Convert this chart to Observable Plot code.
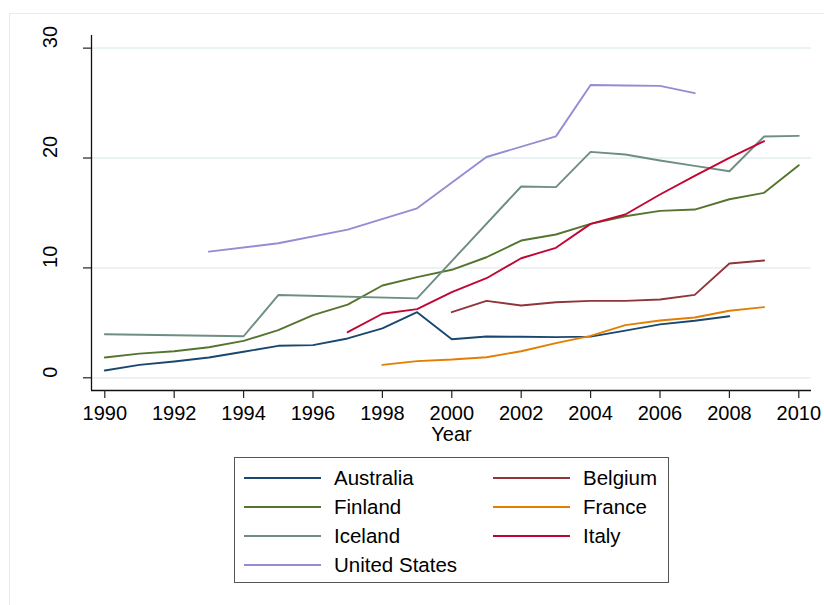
<!DOCTYPE html>
<html>
<head>
<meta charset="utf-8">
<script src="https://cdn.jsdelivr.net/npm/d3@7"></script>
<script src="https://cdn.jsdelivr.net/npm/@observablehq/plot@0.6"></script>
<style>
  html, body { margin: 0; padding: 0; background: #fff; }
  #wrap { position: relative; width: 824px; height: 605px; overflow: hidden; background: #fff;
          font-family: "Liberation Sans", Arial, sans-serif; }
  #frame { position: absolute; left: 9px; top: 13px; width: 900px; height: 700px;
           border-left: 1px solid #e3ebee; border-top: 1px solid #e3ebee; }
  #chart { position: absolute; left: 0; top: 0; }
  #legend { position: absolute; left: 234px; top: 457px; width: 433px; height: 124px;
            border: 1px solid #555; background: #fff; }
  .key { position: absolute; height: 2px; width: 77px; }
  .lab { position: absolute; font-size: 20.5px; line-height: 20px; color: #000; white-space: nowrap; }
</style>
</head>
<body>
<div id="wrap">
  <div id="frame"></div>
  <div id="chart"></div>
  <div id="legend"></div>
</div>
<script>
const countries = ["Australia", "Belgium", "Finland", "France", "Iceland", "Italy", "United States"];
const colors = ["#1a476f", "#90353b", "#55752f", "#e37e00", "#6e8e84", "#c10534", "#938dd2"];

const australiaYears  = [1990,1991,1992,1993,1994,1995,1996,1997,1998,1999,2000,2001,2002,2003,2004,2005,2006,2007,2008];
const australiaValues = [0.66,1.18,1.48,1.85,2.37,2.91,2.97,3.58,4.49,5.97,3.51,3.76,3.73,3.70,3.75,4.29,4.86,5.19,5.60];

const belgiumYears  = [2000,2001,2002,2003,2004,2005,2006,2007,2008,2009];
const belgiumValues = [5.97,7.00,6.58,6.88,7.00,7.00,7.12,7.55,10.40,10.67];

const finlandYears  = [1990,1991,1992,1993,1994,1995,1996,1997,1998,1999,2000,2001,2002,2003,2004,2005,2006,2007,2008,2009,2010];
const finlandValues = [1.85,2.20,2.42,2.78,3.36,4.34,5.70,6.66,8.40,9.16,9.83,10.97,12.49,13.04,14.01,14.70,15.19,15.31,16.25,16.83,19.35];

const franceYears  = [1998,1999,2000,2001,2002,2003,2004,2005,2006,2007,2008,2009];
const franceValues = [1.18,1.52,1.66,1.87,2.42,3.15,3.82,4.79,5.21,5.49,6.10,6.43];

const icelandYears  = [1990,1994,1995,1999,2002,2003,2004,2005,2006,2007,2008,2009,2010];
const icelandValues = [3.96,3.78,7.53,7.23,17.41,17.35,20.56,20.32,19.77,19.29,18.80,21.96,22.02];

const italyYears  = [1997,1998,1999,2000,2001,2002,2003,2004,2005,2006,2007,2008,2009];
const italyValues = [4.15,5.83,6.25,7.80,9.06,10.88,11.83,14.01,14.86,16.68,18.38,20.02,21.53];

const usYears  = [1993,1995,1997,1999,2001,2003,2004,2005,2006,2007];
const usValues = [11.48,12.24,13.48,15.42,20.09,21.97,26.65,26.60,26.57,25.90];

const xTicks = [1990,1992,1994,1996,1998,2000,2002,2004,2006,2008,2010];
const yTicks = [0,10,20,30];
const xDomain = [1989.617, 2010.366];
const yDomain = [-1.156, 31.15];

const seriesYears  = [australiaYears, belgiumYears, finlandYears, franceYears, icelandYears, italyYears, usYears];
const seriesValues = [australiaValues, belgiumValues, finlandValues, franceValues, icelandValues, italyValues, usValues];

const data = [];
countries.forEach((c, i) => {
  seriesYears[i].forEach((yr, j) => data.push({country: c, year: yr, value: seriesValues[i][j]}));
});

const chart = Plot.plot({
  width: 824,
  height: 455,
  marginLeft: 91,
  marginRight: 13,
  marginTop: 35,
  marginBottom: 65,
  style: {fontFamily: "'Liberation Sans', Arial, sans-serif", fontSize: "20px", background: "transparent", color: "#000"},
  x: {domain: xDomain},
  y: {domain: yDomain},
  color: {domain: countries, range: colors},
  marks: [
    Plot.gridY(yTicks, {stroke: "#e9f1f3", strokeOpacity: 1, strokeWidth: 1.8}),
    Plot.line(data, {x: "year", y: "value", z: "country", stroke: "country", strokeWidth: 1.9}),
    Plot.ruleX([xDomain[0]], {stroke: "#111", strokeWidth: 1.3}),
    Plot.ruleY([yDomain[0]], {stroke: "#111", strokeWidth: 1.3}),
    Plot.axisX({ticks: xTicks, tickSize: 8, tickPadding: 7, tickFormat: d => String(d), label: null, fontSize: 20, stroke: "#222", strokeWidth: 1.2}),
    Plot.axisY({ticks: yTicks, tickSize: 8, tickFormat: () => "", label: null, stroke: "#222", strokeWidth: 1.2}),
    Plot.text(yTicks, {y: d => d, frameAnchor: "left", dx: -40.5, rotate: -90, text: d => String(d), fontSize: 20, fill: "#000"}),
    Plot.text(["Year"], {frameAnchor: "bottom", dy: 50, text: d => d, fontSize: 20, fill: "#000"})
  ]
});
document.getElementById("chart").appendChild(chart);

// legend, two columns, row-major
const legend = document.getElementById("legend");
const colKeyX = [9, 258];
const colLabX = [99, 348];
const rowY = [20, 49, 78, 107];
countries.forEach((c, i) => {
  const col = i % 2, row = Math.floor(i / 2);
  const k = document.createElement("div");
  k.className = "key";
  k.style.left = colKeyX[col] + "px";
  k.style.top = (rowY[row] - 1) + "px";
  k.style.background = colors[i];
  legend.appendChild(k);
  const t = document.createElement("div");
  t.className = "lab";
  t.style.left = colLabX[col] + "px";
  t.style.top = (rowY[row] - 10) + "px";
  t.textContent = c;
  legend.appendChild(t);
});
</script>
</body>
</html>
